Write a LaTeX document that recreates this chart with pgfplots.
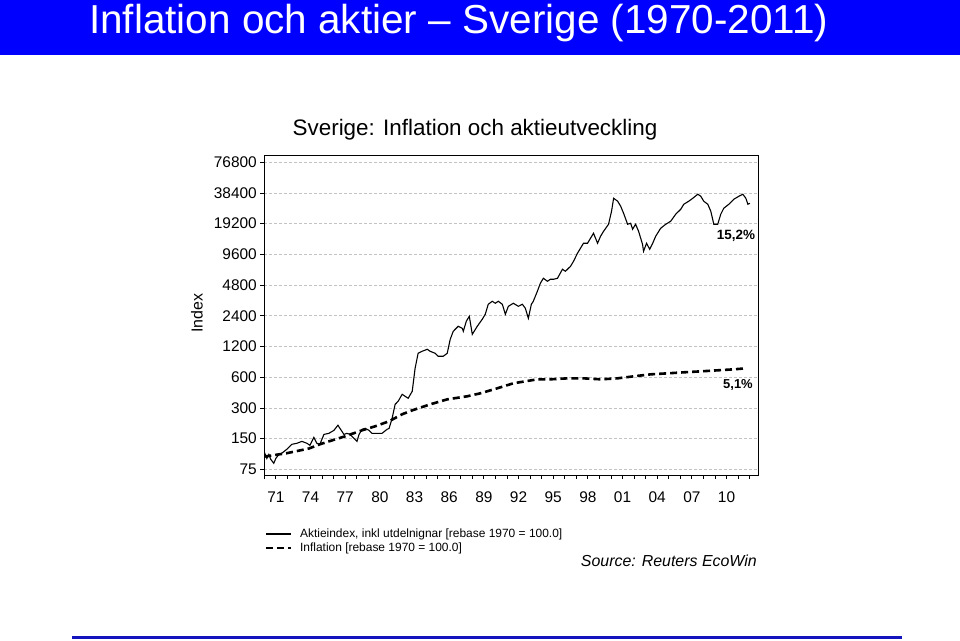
\documentclass[border=0pt]{standalone}
\usepackage{pgfplots}
\pgfplotsset{compat=1.18}
\usepackage{fontspec}
\setmainfont{Liberation Sans}
\definecolor{titleblue}{RGB}{0,0,255}
\definecolor{lineblue}{RGB}{20,20,190}
\definecolor{gridgray}{RGB}{195,195,195}
\begin{document}
\begin{tikzpicture}
\path[use as bounding box] (0,0) rectangle (960bp,-641bp);
\begin{scope}[x=1bp,y=-1bp]
\fill[titleblue] (0,0) rectangle (960,55);
\node[text=white, font=\fontsize{40.6}{44}\selectfont, anchor=base west, inner sep=0pt] at (89,33) {Inflation och aktier – Sverige (1970-2011)};
\node[font=\fontsize{22.5}{25}\selectfont, inner sep=0pt] at (475,130) {Sverige: Inflation och aktieutveckling};
\node[font=\fontsize{16}{18}\selectfont, rotate=90, inner sep=0pt] at (197,313) {Index};
\node[font=\bfseries\fontsize{13.5}{15}\selectfont, inner sep=0pt] at (736,236) {15,2\%};
\node[font=\bfseries\fontsize{13}{15}\selectfont, inner sep=0pt] at (738,385) {5,1\%};
\node[font=\itshape\fontsize{16}{18}\selectfont, anchor=east, inner sep=0pt] at (757,561) {Source: Reuters EcoWin};
\fill[lineblue] (72,635.5) rectangle (902,638.8);
\end{scope}
\begin{axis}[
  at={(264.3bp,-475bp)}, anchor=south west,
  width=494bp, height=319.3bp, scale only axis,
  xmin=1970, xmax=2012.75,
  ymode=log, log basis y=2, ymin=66, ymax=89000,
  xtick={1971,1974,...,2010},
  xticklabels={71,74,77,80,83,86,89,92,95,98,01,04,07,10},
  minor xtick={1970,1971,...,2012},
  ytick={75,150,300,600,1200,2400,4800,9600,19200,38400,76800},
  yticklabels={75,150,300,600,1200,2400,4800,9600,19200,38400,76800},
  xtick pos=bottom, ytick pos=left,
  tick align=outside,
  major tick length=4bp, minor tick length=4bp,
  tick style={black, line width=0.8bp},
  axis line style={line width=0.9bp},
  ymajorgrids,
  major grid style={gridgray, dash pattern=on 3bp off 2bp, line width=0.7bp},
  /pgf/number format/assume math mode=true,
  tick label style={font=\fontsize{15.5}{17}\selectfont},
  xticklabel style={yshift=-9bp},
  legend style={at={(axis description cs:0.0,-0.162)}, anchor=north west,
    draw=none, fill=none, font=\fontsize{12}{13}\selectfont,
    inner sep=0pt, row sep=0bp, column sep=6bp, cells={anchor=west}},
  legend image code/.code={\draw[#1] (0bp,0bp) -- (25bp,0bp);},
]
\addplot[black, line width=1.1bp] coordinates {
(1970.0,100) (1970.04,108) (1970.22,96) (1970.39,105) (1970.56,94) (1970.82,86) (1971.0,96) (1971.26,105) (1971.52,108) (1971.95,118) (1972.39,132) (1972.82,135) (1973.25,141) (1973.69,135) (1973.95,129) (1974.29,154) (1974.55,135) (1974.81,132) (1975.16,165) (1975.59,169) (1976.03,181) (1976.37,203) (1976.55,189) (1976.89,165) (1977.15,169) (1977.42,165) (1977.76,151) (1978.02,141) (1978.20,165) (1978.46,185) (1978.72,189) (1979.06,181) (1979.32,169) (1979.76,169) (1980.19,169) (1980.62,185) (1980.80,189) (1981.06,237) (1981.32,325) (1981.58,348) (1981.93,408) (1982.19,390) (1982.45,373) (1982.80,436) (1983.05,733) (1983.31,1029) (1983.66,1077) (1984.10,1127) (1984.35,1077) (1984.79,1029) (1985.05,962) (1985.48,962) (1985.83,1029) (1986.09,1412) (1986.35,1691) (1986.78,1894) (1987.13,1810) (1987.22,1691) (1987.48,2120) (1987.74,2374) (1988.0,1580) (1988.43,1894) (1988.86,2218) (1989.12,2483) (1989.38,3112) (1989.73,3330) (1989.99,3183) (1990.25,3330) (1990.60,3112) (1990.86,2483) (1991.12,2973) (1991.55,3183) (1991.99,2973) (1992.33,3112) (1992.59,2843) (1992.85,2269) (1993.11,3112) (1993.28,3330) (1993.63,4173) (1993.89,5000) (1994.15,5596) (1994.50,5233) (1994.76,5470) (1995.02,5470) (1995.37,5596) (1995.80,6858) (1996.06,6557) (1996.50,7338) (1996.76,8212) (1997.10,9842) (1997.36,11019) (1997.62,12337) (1997.97,12337) (1998.23,13807) (1998.49,15456) (1998.84,12337) (1999.10,14450) (1999.36,16170) (1999.79,18940) (2000.05,25400) (2000.23,34060) (2000.58,31850) (2000.84,28450) (2001.09,24290) (2001.44,18940) (2001.70,19370) (2001.87,16920) (2002.13,18940) (2002.39,16170) (2002.73,12060) (2002.82,10300) (2003.08,12337) (2003.35,10770) (2003.61,12337) (2003.87,14450) (2004.30,17300) (2004.74,18940) (2005.17,20270) (2005.60,23740) (2006.04,26580) (2006.30,29750) (2006.73,31850) (2007.08,34060) (2007.51,37300) (2007.77,35650) (2008.03,31850) (2008.38,29750) (2008.64,25400) (2008.90,18940) (2009.24,18940) (2009.50,23740) (2009.76,27190) (2010.20,29750) (2010.63,33310) (2011.07,35650) (2011.41,37300) (2011.67,34060) (2011.85,29750) (2012.02,30430)
};
\addlegendentry{Aktieindex, inkl utdelnignar [rebase 1970 = 100.0]}
\addplot[black, line width=2.6bp, dash pattern=on 7bp off 4bp] coordinates {
(1970,100) (1971.95,108) (1973.86,120) (1974.81,132) (1975.85,144) (1976.98,158) (1978.46,181) (1979.58,198) (1980.80,222) (1981.93,260) (1982.80,284) (1984.35,325) (1985.83,364) (1987.56,390) (1988.69,417) (1990.16,467) (1991.55,523) (1993.63,572) (1994.76,572) (1996.24,585) (1997.62,585) (1999.10,572) (2000.57,585) (2001.96,612) (2003.43,640) (2004.91,655) (2006.30,670) (2007.77,685) (2009.24,701) (2010.63,717) (2011.67,733)
};
\addlegendentry{Inflation [rebase 1970 = 100.0]}
\end{axis}
\end{tikzpicture}
\end{document}
